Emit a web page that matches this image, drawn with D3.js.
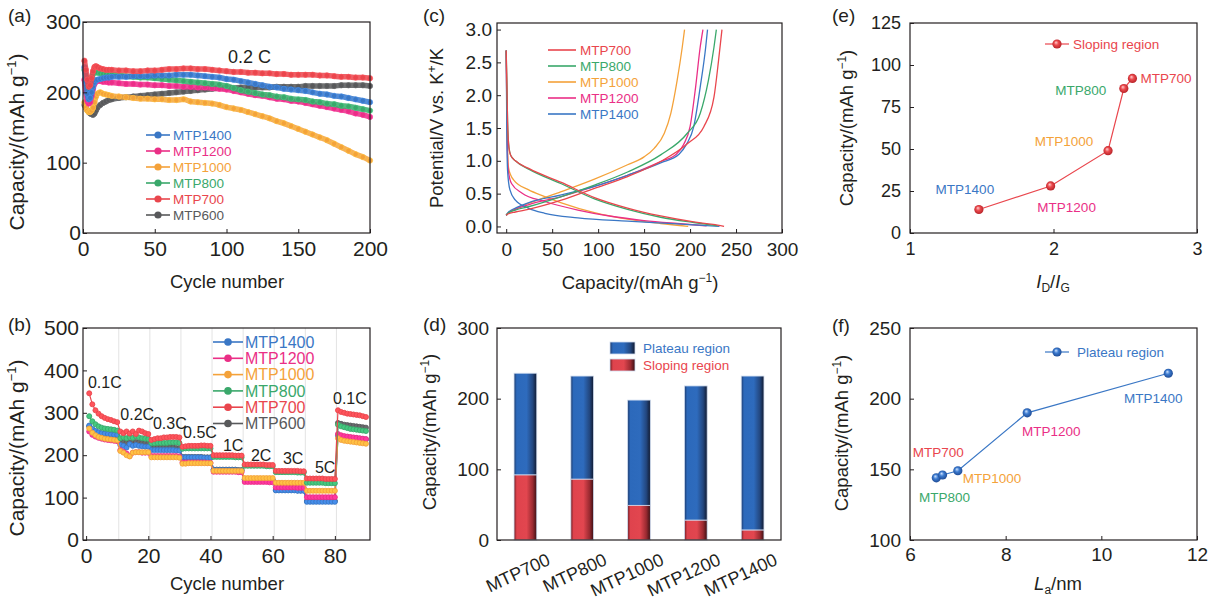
<!DOCTYPE html>
<html>
<head>
<meta charset="utf-8">
<script src="https://cdn.jsdelivr.net/npm/d3@7"></script>
<style>
  body { margin: 0; background: #fff; }
  svg { font-family: "Liberation Sans", Arial, sans-serif; }
</style>
</head>
<body>
<svg id="fig" width="1215" height="600"></svg>
<script>
// ---------- data ----------
const samples = ["MTP700", "MTP800", "MTP1000", "MTP1200", "MTP1400"];

// (a) cycling at 0.2 C
const cyclesA = [1,2,3,4,5,6,7,8,9,10,12,14,16,18,20,25,30,35,40,45,50,55,60,65,70,75,80,85,90,95,100,
  105,110,115,120,125,130,135,140,145,150,155,160,165,170,175,180,185,190,195,200];
const capA700 = [245,232,218,208,210,220,230,236,237,236, 234,233,232,232,232,
  231,231,230,230,231,231,232,233,233,234, 234,233,233,232,231,230,229,229,228,228,
  227,227,226,226,225,225,225,225,224,224, 223,222,222,221,221,220];
const capA800 = [232,222,210,205,208,218,226,230,229,228, 227,226,226,225,225,
  224,223,222,221,221,220,219,218,217,216, 215,214,213,212,211,209,206,203,201,199,
  197,196,194,193,191,190,189,187,186,184, 183,181,180,178,176,174];
const capA1000 = [186,178,174,172,172,174,178,186,194,198, 200,198,197,196,195,
  194,193,192,191,191,190,190,189,189,190, 187,186,185,184,182,179,177,175,172,169,
  166,163,159,156,152,148,144,140,136,132, 127,122,117,112,108,103];
const capA1200 = [218,200,188,184,186,195,205,212,215,216, 216,215,215,214,214,
  213,212,212,211,211,210,210,209,209,208, 208,207,207,206,205,204,202,200,198,196,
  195,193,191,190,188,187,185,183,181,179, 177,175,173,170,168,165];
const capA1400 = [236,215,198,190,192,200,208,214,217,218, 219,220,221,221,222,
  222,222,223,223,223,224,224,224,225,225, 225,224,223,222,221,219,218,216,214,212,
  210,208,207,205,204,203,202,200,198,197, 195,194,192,190,188,186];
const capA600 = [182,178,175,172,170,169,168,170,174,178, 182,185,187,189,190,
  192,193,194,195,196,197,198,199,200,201, 202,203,204,205,206,206,206,207,207,207,
  207,207,208,208,208,208,209,209,209,209, 209,210,210,210,210,209];

// (b) rate performance, one value per cycle (10 cycles per rate)
const rateLabels = ["0.1C","0.2C","0.3C","0.5C","1C","2C","3C","5C","0.1C"];
const capB700 = [
  346,320,306,298,292,288,285,283,280,278,
  256,252,256,251,256,250,258,256,252,250,
  236,238,240,240,242,242,243,243,243,242,
  220,221,222,222,222,222,223,223,222,222,
  200,200,200,200,200,200,200,199,199,199,
  178,178,178,178,178,178,178,177,177,177,
  163,163,163,163,163,163,163,163,162,162,
  145,145,145,145,145,145,144,144,144,144,
  306,302,300,298,297,296,295,294,292,290];
const capB800 = [
  292,280,273,268,265,263,262,261,260,258,
  240,242,240,243,241,245,242,240,239,238,
  228,228,229,229,229,229,230,230,230,229,
  215,216,216,216,216,216,216,216,216,216,
  196,196,196,196,196,196,196,195,195,195,
  175,175,175,175,175,175,175,174,174,174,
  160,160,160,160,160,160,160,159,159,159,
  135,135,135,135,135,135,134,134,134,134,
  272,268,266,264,262,261,260,259,258,257];
const capB1000 = [
  263,253,247,243,241,239,238,237,236,235,
  210,206,200,197,206,207,207,207,207,207,
  195,195,195,195,195,195,195,195,195,194,
  180,180,181,181,181,181,181,181,181,181,
  163,163,163,163,163,163,163,163,163,163,
  146,146,146,146,146,146,146,146,146,146,
  135,135,135,135,135,135,135,135,135,135,
  116,116,116,116,116,116,116,116,116,116,
  240,236,234,233,232,231,230,229,228,227];
const capB1200 = [
  256,248,244,241,239,237,236,235,234,233,
  212,208,204,198,206,207,207,206,206,206,
  198,198,198,198,198,198,198,198,198,197,
  183,183,183,183,183,183,183,183,182,182,
  161,161,161,161,161,161,161,161,160,160,
  137,137,137,137,137,137,137,137,136,136,
  124,124,124,124,124,124,124,123,123,123,
  101,101,101,101,101,101,101,101,101,101,
  250,247,245,244,243,242,241,240,239,238];
const capB1400 = [
  270,262,257,254,252,251,250,249,248,248,
  224,222,218,226,222,224,222,221,220,220,
  212,212,212,212,212,212,212,212,211,211,
  195,195,195,195,195,195,195,194,194,194,
  165,165,165,165,165,165,165,165,164,164,
  142,142,142,142,142,142,142,142,141,141,
  117,117,117,117,117,117,117,116,116,116,
  90,90,90,90,90,90,90,90,90,90,
  246,244,243,242,241,240,240,239,238,237];
const capB600 = [
  268,260,256,253,251,250,249,248,247,246,
  232,230,229,230,229,231,230,229,229,228,
  218,218,218,218,218,218,218,218,217,217,
  196,196,196,196,196,196,196,195,195,195,
  166,166,166,166,166,166,166,166,165,165,
  143,143,143,143,143,143,143,143,142,142,
  118,118,118,118,118,118,118,117,117,117,
  92,92,92,92,92,92,92,92,92,92,
  276,274,272,271,270,269,268,267,266,265];

// (c) galvanostatic profiles [capacity, potential]
const dis700 = [[0,2.68],[1.5,1.6],[3,1.2],[5,1.08],[10,1.0],[25,0.88],[60,0.67],[96,0.44],[132,0.28],[168,0.16],[204,0.07],[225,0.03],[237,0.0]];
const chg700 = [[0,0.17],[2,0.19],[10,0.22],[24,0.26],[60,0.40],[96,0.58],[132,0.76],[168,0.99],[197,1.26],[215,1.52],[226,1.97],[231,2.53],[234.7,3.0]];
const dis800 = [[0,2.68],[1.5,1.6],[3,1.2],[5,1.08],[10,1.0],[25,0.87],[60,0.65],[96,0.42],[132,0.26],[168,0.14],[204,0.06],[230,0.01]];
const chg800 = [[0,0.17],[2,0.2],[10,0.25],[24,0.30],[60,0.455],[96,0.63],[132,0.83],[168,1.09],[197,1.42],[211,1.72],[220,2.23],[226,2.73],[228.6,3.0]];
const dis1000 = [[0,2.68],[1,1.5],[2.5,0.9],[5,0.78],[8,0.71],[24,0.56],[42,0.455],[60,0.36],[96,0.21],[132,0.11],[168,0.045],[198,0.0]];
const chg1000 = [[0,0.17],[2,0.2],[10,0.27],[24,0.35],[60,0.53],[96,0.72],[132,0.94],[150,1.06],[161,1.19],[172,1.42],[179,1.72],[186,2.23],[191.5,2.73],[194,3.0]];
const dis1200 = [[0,2.68],[1,1.4],[2,0.9],[4,0.72],[6,0.65],[17,0.51],[42,0.38],[78,0.25],[114,0.155],[150,0.09],[186,0.045],[218,0.01]];
const chg1200 = [[0,0.17],[2,0.2],[10,0.26],[24,0.33],[60,0.455],[96,0.61],[132,0.78],[168,0.99],[185,1.1],[193,1.25],[200,1.52],[206,2.12],[211,2.73],[214,3.0]];
const dis1400 = [[0,2.68],[0.7,1.4],[1.5,0.85],[4,0.56],[10,0.40],[24,0.28],[42,0.2],[78,0.13],[132,0.08],[186,0.04],[232,0.0]];
const chg1400 = [[0,0.17],[2,0.21],[10,0.28],[24,0.36],[60,0.48],[96,0.61],[132,0.78],[168,0.97],[188,1.1],[196,1.25],[204,1.52],[211,2.12],[217,2.73],[219,3.0]];

// (d)-(f) capacity split
const slopingCap = [92, 86, 49, 28, 14];
const plateauCap = [144, 146, 149, 190, 218];
const idIg = [2.55, 2.49, 2.38, 1.98, 1.48];
const laNm = [6.55, 6.68, 7.0, 8.45, 11.4];

// ---------- styles ----------
const ink = "#231f20";
const col = { MTP600: "#58595b", MTP700: "#e9464d", MTP800: "#3aa86b", MTP1000: "#f4a23a", MTP1200: "#ea2f86", MTP1400: "#3a77c5" };

const svg = d3.select("#fig");
const defs = svg.append("defs");

function sphere(id, hi, mid, lo) {
  const g = defs.append("radialGradient").attr("id", id)
    .attr("cx", "50%").attr("cy", "50%").attr("r", "60%").attr("fx", "38%").attr("fy", "32%");
  g.append("stop").attr("offset", "0%").attr("stop-color", hi);
  g.append("stop").attr("offset", "40%").attr("stop-color", mid);
  g.append("stop").attr("offset", "100%").attr("stop-color", lo);
}
sphere("sphRed", "#ffd0d0", "#ec4a4e", "#a8181e");
sphere("sphBlue", "#d0e4ff", "#3c7bd0", "#173f85");

function barGrad(id, stops) {
  const g = defs.append("linearGradient").attr("id", id).attr("x1", "0%").attr("x2", "100%").attr("y1", "0%").attr("y2", "0%");
  stops.forEach(s => g.append("stop").attr("offset", s[0]).attr("stop-color", s[1]));
}
barGrad("gBlue", [["0%", "#1d3a6c"], ["12%", "#2c69bb"], ["55%", "#2e6bbd"], ["82%", "#23477f"], ["100%", "#111a30"]]);
barGrad("gRed", [["0%", "#6e1c22"], ["12%", "#df434d"], ["55%", "#e2464f"], ["82%", "#9a2a31"], ["100%", "#3a1014"]]);

// ---------- helpers ----------
function frame(g, x, y) {
  const [x0, x1] = x.range(), [y0, y1] = y.range();
  g.append("rect").attr("x", x0).attr("y", y1).attr("width", x1 - x0).attr("height", y0 - y1)
    .attr("fill", "none").attr("stroke", ink).attr("stroke-width", 1.2);
}

function styleAxis(sel, fs) {
  sel.select(".domain").remove();
  sel.attr("font-family", null).attr("font-size", null);
  sel.selectAll(".tick line").attr("stroke", ink);
  sel.selectAll(".tick text").attr("fill", ink).style("font-size", fs + "px");
}

function axes(g, x, y, o) {
  if (o.xt) {
    g.append("g").attr("transform", `translate(0,${y.range()[0]})`)
      .call(d3.axisBottom(x).tickValues(o.xt).tickFormat(o.xf || d3.format("d"))
        .tickSizeInner(-4).tickSizeOuter(0).tickPadding(o.xpad))
      .call(s => styleAxis(s, o.fs));
  }
  g.append("g").attr("transform", `translate(${x.range()[0]},0)`)
    .call(d3.axisLeft(y).tickValues(o.yt).tickFormat(o.yf || d3.format("d"))
      .tickSizeInner(-4).tickSizeOuter(0).tickPadding(o.ypad))
    .call(s => styleAxis(s, o.fs));
  frame(g, x, y);
}

function capTitle(t, supSize) {
  t.append("tspan").text("Capacity/(mAh g");
  t.append("tspan").attr("font-size", supSize).attr("dy", -supSize * 0.6).text("\u22121");
  t.append("tspan").attr("dy", supSize * 0.6).text(")");
}

function yTitle(g, x, y, fs, fill) {
  const t = g.append("text").attr("transform", `translate(${x},${y}) rotate(-90)`)
    .attr("text-anchor", "middle").attr("fill", ink).style("font-size", fs + "px");
  fill(t);
}

function panelTag(x, y, s) {
  svg.append("text").attr("x", x).attr("y", y).attr("fill", ink).style("font-size", "19px").text(s);
}

// ---------- (a) ----------
{
  const g = svg.append("g");
  const x = d3.scaleLinear().domain([0, 200]).range([83, 370]);
  const y = d3.scaleLinear().domain([0, 300]).range([233, 22]);
  const series = [
    ["MTP600", capA600], ["MTP1000", capA1000], ["MTP1200", capA1200],
    ["MTP800", capA800], ["MTP1400", capA1400], ["MTP700", capA700]
  ];
  const line = d3.line().x((d, i) => x(cyclesA[i])).y(d => y(d)).curve(d3.curveMonotoneX);
  series.forEach(([name, vals]) => {
    g.append("path").attr("d", line(vals)).attr("fill", "none")
      .attr("stroke", col[name]).attr("stroke-width", 5.5).attr("stroke-opacity", 0.85);
    g.selectAll(null).data(vals).join("circle")
      .attr("cx", (d, i) => x(cyclesA[i])).attr("cy", d => y(d)).attr("r", 2.7)
      .attr("fill", col[name]).attr("stroke", d3.color(col[name]).brighter(0.6)).attr("stroke-width", 0.6);
  });
  axes(g, x, y, { xt: [0, 50, 100, 150, 200], yt: [0, 100, 200, 300], fs: 21, xpad: 8, ypad: 2 });
  g.append("text").attr("x", 228).attr("y", 63).attr("fill", ink).style("font-size", "18px").text("0.2 C");
  const legA = ["MTP1400", "MTP1200", "MTP1000", "MTP800", "MTP700", "MTP600"];
  legA.forEach((n, i) => {
    const yy = 135 + i * 16;
    g.append("line").attr("x1", 146).attr("x2", 170).attr("y1", yy).attr("y2", yy).attr("stroke", col[n]).attr("stroke-width", 1.6);
    g.append("circle").attr("cx", 158).attr("cy", yy).attr("r", 3.6).attr("fill", col[n]);
    g.append("text").attr("x", 173).attr("y", yy).attr("dy", "0.36em").attr("fill", col[n]).style("font-size", "13.5px").text(n);
  });
  g.append("text").attr("x", 227).attr("y", 288).attr("text-anchor", "middle").attr("fill", ink).style("font-size", "18.5px").text("Cycle number");
  yTitle(g, 24, 142, 21, t => capTitle(t, 13));
  panelTag(8, 22, "(a)");
}

// ---------- (b) ----------
{
  const g = svg.append("g");
  const x = d3.scaleLinear().domain([-1, 91.3]).range([83, 370]);
  const y = d3.scaleLinear().domain([0, 500]).range([540, 328]);
  g.selectAll(null).data(d3.range(1, 9)).join("line")
    .attr("x1", d => x(d * 10 + 0.5)).attr("x2", d => x(d * 10 + 0.5))
    .attr("y1", y(0)).attr("y2", y(500)).attr("stroke", "#e3e3e3").attr("stroke-width", 1);
  const series = [
    ["MTP600", capB600], ["MTP1400", capB1400], ["MTP1200", capB1200],
    ["MTP1000", capB1000], ["MTP800", capB800], ["MTP700", capB700]
  ];
  const line = d3.line().x((d, i) => x(i + 1)).y(d => y(d));
  series.forEach(([name, vals]) => {
    g.append("path").attr("d", line(vals)).attr("fill", "none").attr("stroke", col[name]).attr("stroke-width", 1.2);
    g.selectAll(null).data(vals).join("circle")
      .attr("cx", (d, i) => x(i + 1)).attr("cy", d => y(d)).attr("r", 2.5)
      .attr("fill", d3.color(col[name]).brighter(0.5)).attr("stroke", col[name]).attr("stroke-width", 0.9);
  });
  axes(g, x, y, { xt: [0, 20, 40, 60, 80], yt: [0, 100, 200, 300, 400, 500], fs: 21, xpad: 8, ypad: 4 });
  const ratePos = [[0.6, 358], [11, 283], [21.5, 262], [31.2, 240], [44, 210], [53, 186], [63.3, 179], [73.6, 158], [79.4, 321]];
  rateLabels.forEach((r, i) => {
    g.append("text").attr("x", x(ratePos[i][0])).attr("y", y(ratePos[i][1]))
      .attr("fill", ink).style("font-size", "16px").text(r);
  });
  const legB = ["MTP1400", "MTP1200", "MTP1000", "MTP800", "MTP700", "MTP600"];
  legB.forEach((n, i) => {
    const yy = 342 + i * 16.3;
    g.append("line").attr("x1", 213).attr("x2", 243).attr("y1", yy).attr("y2", yy).attr("stroke", col[n]).attr("stroke-width", 1.6);
    g.append("circle").attr("cx", 228).attr("cy", yy).attr("r", 3.8).attr("fill", col[n]);
    g.append("text").attr("x", 245).attr("y", yy).attr("dy", "0.36em").attr("fill", col[n]).style("font-size", "16px").text(n);
  });
  g.append("text").attr("x", 227).attr("y", 590).attr("text-anchor", "middle").attr("fill", ink).style("font-size", "18.5px").text("Cycle number");
  yTitle(g, 24, 448, 21, t => capTitle(t, 13));
  panelTag(8, 331, "(b)");
}

// ---------- (c) ----------
{
  const g = svg.append("g");
  const x = d3.scaleLinear().domain([-10, 300]).range([497, 782]);
  const y = d3.scaleLinear().domain([-0.1, 3.1]).range([233, 23]);
  const line = d3.line().x(d => x(d[0])).y(d => y(d[1])).curve(d3.curveMonotoneX);
  const curves = [
    ["MTP1000", dis1000, chg1000], ["MTP1200", dis1200, chg1200], ["MTP1400", dis1400, chg1400],
    ["MTP800", dis800, chg800], ["MTP700", dis700, chg700]
  ];
  curves.forEach(([n, d, c]) => {
    [d, c].forEach(p => g.append("path").attr("d", line(p)).attr("fill", "none")
      .attr("stroke", col[n]).attr("stroke-width", 1.3));
  });
  axes(g, x, y, { xt: d3.range(0, 301, 50), yt: [0, 0.5, 1, 1.5, 2, 2.5, 3], yf: d3.format(".1f"), fs: 19, xpad: 10, ypad: 5 });
  samples.forEach((n, i) => {
    const yy = 50 + i * 16;
    g.append("line").attr("x1", 548).attr("x2", 576).attr("y1", yy).attr("y2", yy).attr("stroke", col[n]).attr("stroke-width", 1.6);
    g.append("text").attr("x", 580).attr("y", yy).attr("dy", "0.36em").attr("fill", col[n]).style("font-size", "13.5px").text(n);
  });
  const xt = g.append("text").attr("x", 640).attr("y", 289).attr("text-anchor", "middle").attr("fill", ink).style("font-size", "18.5px");
  capTitle(xt, 12);
  yTitle(g, 443, 128, 18.5, t => {
    t.append("tspan").text("Potential/V vs. K");
    t.append("tspan").attr("font-size", 12).attr("dy", -7).text("+");
    t.append("tspan").attr("dy", 7).text("/K");
  });
  panelTag(423, 22, "(c)");
}

// ---------- (d) ----------
{
  const g = svg.append("g");
  const x = d3.scaleBand().domain(samples).range([497, 781]).paddingInner(0.6).paddingOuter(0.3);
  const y = d3.scaleLinear().domain([0, 300]).range([540, 328]);
  samples.forEach((n, i) => {
    const s = slopingCap[i], p = plateauCap[i];
    g.append("rect").attr("x", x(n)).attr("width", x.bandwidth()).attr("y", y(s + p)).attr("height", y(s) - y(s + p))
      .attr("fill", "url(#gBlue)").attr("stroke", "#cfdcf0").attr("stroke-width", 0.8);
    g.append("rect").attr("x", x(n)).attr("width", x.bandwidth()).attr("y", y(s)).attr("height", y(0) - y(s))
      .attr("fill", "url(#gRed)").attr("stroke", "#cfdcf0").attr("stroke-width", 0.8);
    g.append("text").attr("transform", `translate(${x(n) + x.bandwidth() / 2 + 26},564) rotate(-25)`)
      .attr("text-anchor", "end").attr("fill", ink).style("font-size", "18px").text(n);
  });
  g.append("g").attr("transform", "translate(497,0)")
    .call(d3.axisLeft(y).tickValues([0, 100, 200, 300]).tickSizeInner(-4).tickSizeOuter(0).tickPadding(8))
    .call(s => styleAxis(s, 19));
  g.append("rect").attr("x", 497).attr("y", 328).attr("width", 284).attr("height", 212)
    .attr("fill", "none").attr("stroke", ink).attr("stroke-width", 1.2);
  [["Plateau region", "url(#gBlue)", col.MTP1400], ["Sloping region", "url(#gRed)", col.MTP700]].forEach((l, i) => {
    const yy = 342 + i * 17;
    g.append("rect").attr("x", 610).attr("y", yy).attr("width", 25).attr("height", 12)
      .attr("fill", l[1]).attr("stroke", "#cfdcf0").attr("stroke-width", 0.8);
    g.append("text").attr("x", 643).attr("y", yy + 6).attr("dy", "0.36em").attr("fill", l[2]).style("font-size", "13.5px").text(l[0]);
  });
  yTitle(g, 436, 432, 18.5, t => capTitle(t, 12));
  panelTag(423, 331, "(d)");
}

// ---------- (e) ----------
{
  const g = svg.append("g");
  const x = d3.scaleLinear().domain([1, 3]).range([910, 1197]);
  const y = d3.scaleLinear().domain([0, 125]).range([233, 23]);
  axes(g, x, y, { xt: [1, 2, 3], yt: [0, 25, 50, 75, 100, 125], fs: 18, xpad: 9, ypad: 9 });
  const pts = samples.map((n, i) => ({ n, x: idIg[i], y: slopingCap[i] })).sort((a, b) => a.x - b.x);
  g.append("path").attr("d", d3.line().x(d => x(d.x)).y(d => y(d.y))(pts))
    .attr("fill", "none").attr("stroke", col.MTP700).attr("stroke-width", 1.2);
  g.selectAll(null).data(pts).join("circle").attr("cx", d => x(d.x)).attr("cy", d => y(d.y)).attr("r", 4.6).attr("fill", "url(#sphRed)");
  const off = { MTP1400: [-14, -20, "middle"], MTP1200: [16, 21, "middle"], MTP1000: [-44, -10, "middle"], MTP800: [-43, 2, "middle"], MTP700: [8, 0, "start"] };
  pts.forEach(d => {
    const o = off[d.n];
    g.append("text").attr("x", x(d.x) + o[0]).attr("y", y(d.y) + o[1]).attr("dy", "0.36em")
      .attr("text-anchor", o[2]).attr("fill", col[d.n]).style("font-size", "13.5px").text(d.n);
  });
  g.append("line").attr("x1", 1045).attr("x2", 1069).attr("y1", 44).attr("y2", 44).attr("stroke", col.MTP700).attr("stroke-width", 1.2);
  g.append("circle").attr("cx", 1057).attr("cy", 44).attr("r", 4.6).attr("fill", "url(#sphRed)");
  g.append("text").attr("x", 1073).attr("y", 44).attr("dy", "0.36em").attr("fill", col.MTP700).style("font-size", "13.5px").text("Sloping region");
  const xt = g.append("text").attr("x", 1053).attr("y", 288).attr("text-anchor", "middle").attr("fill", ink).style("font-size", "18.5px");
  xt.append("tspan").attr("font-style", "italic").text("I");
  xt.append("tspan").attr("font-size", 12).attr("dy", 4).text("D");
  xt.append("tspan").attr("dy", -4).text("/");
  xt.append("tspan").attr("font-style", "italic").text("I");
  xt.append("tspan").attr("font-size", 12).attr("dy", 4).text("G");
  yTitle(g, 853, 128, 18.5, t => capTitle(t, 12));
  panelTag(832, 22, "(e)");
}

// ---------- (f) ----------
{
  const g = svg.append("g");
  const x = d3.scaleLinear().domain([6, 12]).range([910, 1197]);
  const y = d3.scaleLinear().domain([100, 250]).range([540, 328]);
  axes(g, x, y, { xt: [6, 8, 10, 12], yt: [100, 150, 200, 250], fs: 19, xpad: 8, ypad: 9 });
  const pts = samples.map((n, i) => ({ n, x: laNm[i], y: plateauCap[i] })).sort((a, b) => a.x - b.x);
  g.append("path").attr("d", d3.line().x(d => x(d.x)).y(d => y(d.y))(pts))
    .attr("fill", "none").attr("stroke", col.MTP1400).attr("stroke-width", 1.2);
  g.selectAll(null).data(pts).join("circle").attr("cx", d => x(d.x)).attr("cy", d => y(d.y)).attr("r", 4.6).attr("fill", "url(#sphBlue)");
  const off = { MTP700: [2, -26, "middle"], MTP800: [2, 22, "middle"], MTP1000: [5, 7, "start"], MTP1200: [24, 18, "middle"], MTP1400: [-15, 25, "middle"] };
  pts.forEach(d => {
    const o = off[d.n];
    g.append("text").attr("x", x(d.x) + o[0]).attr("y", y(d.y) + o[1]).attr("dy", "0.36em")
      .attr("text-anchor", o[2]).attr("fill", col[d.n]).style("font-size", "13.5px").text(d.n);
  });
  g.append("line").attr("x1", 1045).attr("x2", 1069).attr("y1", 352).attr("y2", 352).attr("stroke", col.MTP1400).attr("stroke-width", 1.2);
  g.append("circle").attr("cx", 1057).attr("cy", 352).attr("r", 4.6).attr("fill", "url(#sphBlue)");
  g.append("text").attr("x", 1077).attr("y", 352).attr("dy", "0.36em").attr("fill", col.MTP1400).style("font-size", "13.5px").text("Plateau region");
  const xt = g.append("text").attr("x", 1058).attr("y", 590).attr("text-anchor", "middle").attr("fill", ink).style("font-size", "18.5px");
  xt.append("tspan").attr("font-style", "italic").text("L");
  xt.append("tspan").attr("font-size", 12).attr("dy", 4).text("a");
  xt.append("tspan").attr("dy", -4).text("/nm");
  yTitle(g, 848, 433, 18.5, t => capTitle(t, 12));
  panelTag(832, 332, "(f)");
}
</script>
</body>
</html>
